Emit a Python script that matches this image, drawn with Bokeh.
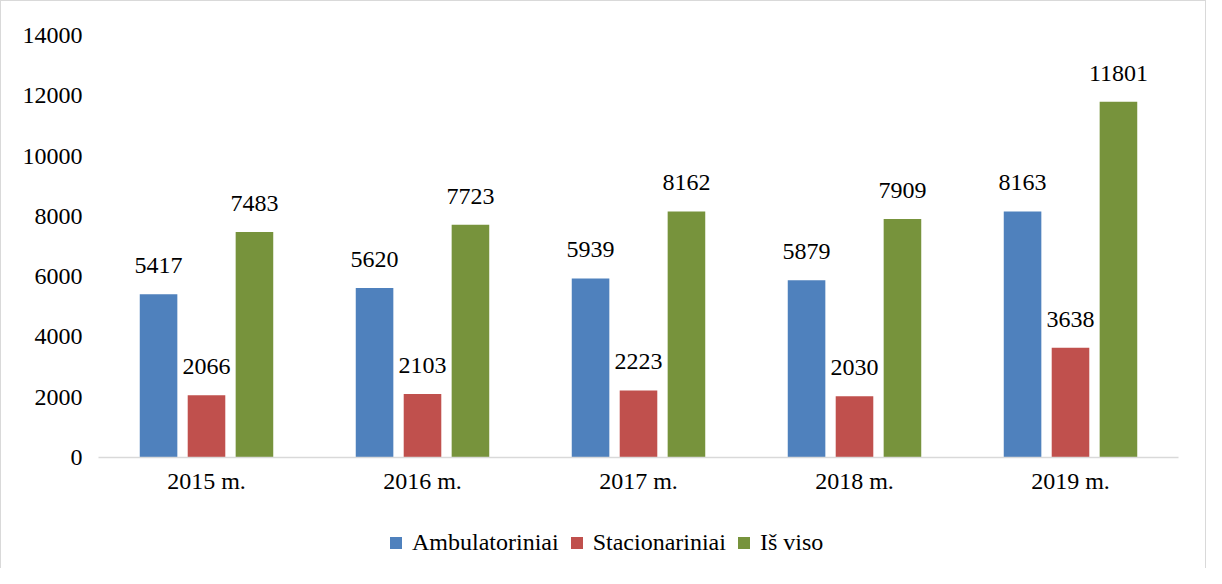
from bokeh.plotting import figure
from bokeh.layouts import column
from bokeh.models import ColumnDataSource, Legend, LegendItem, Range1d, FixedTicker, LabelSet
from bokeh.transform import dodge
from bokeh.embed import file_html
from bokeh.resources import INLINE

years = ["2015 m.", "2016 m.", "2017 m.", "2018 m.", "2019 m."]
ambulatoriniai = [5417, 5620, 5939, 5879, 8163]
stacionariniai = [2066, 2103, 2223, 2030, 3638]
is_viso = [7483, 7723, 8162, 7909, 11801]
series_names = ["Ambulatoriniai", "Stacionariniai", "Iš viso"]
colors = ["#4F81BD", "#C0504D", "#77933C"]
y_ticks = [0, 2000, 4000, 6000, 8000, 10000, 12000, 14000]

FONT = "Liberation Serif"
FS = "24px"
BORDER = "1px solid #d9d9d9"

src = ColumnDataSource(dict(
    years=years,
    a=ambulatoriniai, s=stacionariniai, v=is_viso,
    a_t=[str(x) for x in ambulatoriniai],
    s_t=[str(x) for x in stacionariniai],
    v_t=[str(x) for x in is_viso],
))

p = figure(x_range=years, y_range=Range1d(0, 14000), width=1206, height=520,
           output_backend="svg", toolbar_location=None,
           min_border_left=97, min_border_right=29, min_border_top=34, min_border_bottom=64)
p.styles = {"border-top": BORDER, "border-left": BORDER, "border-right": BORDER,
            "box-sizing": "border-box"}

offsets = [-0.222, 0.0, 0.222]
cols = ["a", "s", "v"]
renderers = []
for off, col, c in zip(offsets, cols, colors):
    r = p.vbar(x=dodge("years", off, range=p.x_range), top=col, width=0.174,
               source=src, fill_color=c, line_color=None)
    renderers.append(r)
    lbl = LabelSet(x=dodge("years", off, range=p.x_range), y=col, text=col + "_t",
                   source=src, text_align="center", text_baseline="alphabetic",
                   y_offset=21, text_font=FONT, text_font_size=FS, text_color="#000000")
    p.add_layout(lbl)

p.xgrid.visible = False
p.ygrid.visible = False
p.outline_line_color = None

p.yaxis.ticker = FixedTicker(ticks=y_ticks)
p.yaxis.axis_line_color = None
p.yaxis.major_tick_line_color = None
p.yaxis.minor_tick_line_color = None
p.yaxis.major_label_standoff = 10
p.yaxis.major_label_text_font = FONT
p.yaxis.major_label_text_font_size = FS
p.yaxis.major_label_text_color = "#000000"

p.xaxis.axis_line_color = "#d9d9d9"
p.xaxis.axis_line_width = 1.5
p.xaxis.major_tick_line_color = None
p.xaxis.minor_tick_line_color = None
p.xaxis.major_label_standoff = 4
p.xaxis.major_label_text_font = FONT
p.xaxis.major_label_text_font_size = FS
p.xaxis.major_label_text_color = "#000000"

# legend strip below the chart: the same series are attached here with zero
# width and a y range that keeps them out of view, so only the legend shows
pl = figure(x_range=years, y_range=Range1d(-1e9, -1e9 + 1), width=1206, height=48,
            output_backend="svg", toolbar_location=None,
            x_axis_type=None, y_axis_type=None,
            min_border_left=0, min_border_right=0, min_border_top=0, min_border_bottom=0)
pl.styles = {"border-left": BORDER, "border-right": BORDER, "box-sizing": "border-box"}
pl.outline_line_color = None
pl.xgrid.visible = False
pl.ygrid.visible = False
leg_renderers = [pl.vbar(x=dodge("years", off, range=pl.x_range), top=col, bottom=0,
                         width=0, source=src, fill_color=c, line_color=None)
                 for off, col, c in zip(offsets, cols, colors)]

legend = Legend(items=[LegendItem(label=n, renderers=[r]) for n, r in zip(series_names, leg_renderers)],
                orientation="horizontal", location=(290, 12),
                label_text_font=FONT, label_text_font_size=FS, label_text_color="#000000",
                glyph_width=15, glyph_height=15, label_standoff=9, spacing=10,
                padding=0, margin=0, border_line_color=None, background_fill_alpha=0)
pl.add_layout(legend, "center")

layout = column(p, pl, spacing=0)
open("out.html", "w").write(file_html(layout, INLINE))
